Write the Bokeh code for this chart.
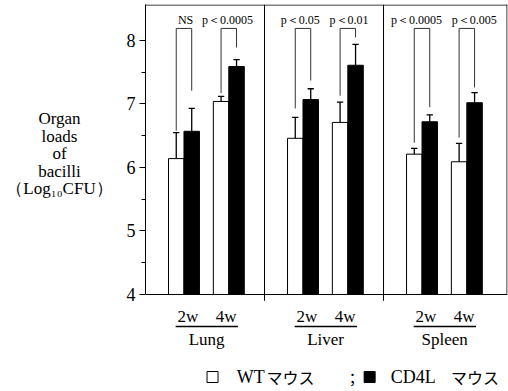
from bokeh.plotting import figure
from bokeh.layouts import row
from bokeh.models import FixedTicker
from bokeh.core.properties import value
from bokeh.embed import file_html
from bokeh.resources import INLINE

# ---- data ----
organs = ["Lung", "Liver", "Spleen"]
weeks = ["2w", "4w"]
wt_mean = [6.14, 7.04, 6.46, 6.71, 6.21, 6.09]
wt_sd = [0.41, 0.08, 0.33, 0.32, 0.09, 0.29]
cd4l_mean = [6.57, 7.59, 7.07, 7.61, 6.72, 7.02]
cd4l_sd = [0.36, 0.11, 0.17, 0.33, 0.11, 0.16]
p_labels = ["NS", "p＜0.0005", "p＜0.05", "p＜0.01", "p＜0.0005", "p＜0.005"]
bracket_left_bottom = [6.58, 7.17, 6.93, 7.13, 6.39, 6.47]
bracket_right_bottom = [7.21, 7.89, 7.37, 8.05, 6.95, 7.26]
bracket_top = 8.19
y_ticks = [4, 5, 6, 7, 8]
y_minor = [4.5, 5.5, 6.5, 7.5]
ylabel_lines = ["Organ", "loads", "of", "bacilli", "（Log₁₀CFU）"]
legend_wt = ["WT", "マウス"]
legend_sep = "；"
legend_cd = ["CD4L", "マウス"]

# ---- layout constants ----
Y_BASE, Y_TOP, Y_BOTTOM, X_MAX = 4.0, 8.567, 2.472, 9.125
PANEL = 3.0
OFFS = [0.97, 2.1]
LABEL_DX = [0.04, -0.03, -0.07, 0.03, -0.14, 0.19]
BW = 0.39
SERIF = "Liberation Serif"
CJK = "Noto Sans CJK JP"
LEFT_W = 118
H = 391

centers = [i * PANEL + o for i in range(len(organs)) for o in OFFS]
wt_x = [c - BW / 2 for c in centers]
cd_x = [c + BW / 2 for c in centers]

p = figure(width=390, height=H, x_range=(0, X_MAX), y_range=(Y_BOTTOM, Y_TOP),
           output_backend="svg", toolbar_location=None, x_axis_location=None,
           min_border_left=27, min_border_right=1, min_border_top=4, min_border_bottom=0)
p.outline_line_color = None
p.xgrid.visible = False
p.ygrid.visible = False

ax = p.yaxis[0]
ax.bounds = (Y_BASE, Y_TOP)
ax.ticker = FixedTicker(ticks=y_ticks, minor_ticks=y_minor)
ax.axis_line_color = "black"
ax.major_tick_line_color = "black"
ax.minor_tick_line_color = "black"
ax.major_tick_in = 0
ax.major_tick_out = 6
ax.minor_tick_in = 0
ax.minor_tick_out = 4
ax.major_label_text_font = SERIF
ax.major_label_text_font_size = "18px"
ax.major_label_text_color = "black"
ax.major_label_standoff = 4

# frame lines
p.segment(x0=[0, X_MAX - 0.012], y0=[Y_TOP - 0.008, Y_BASE], x1=[X_MAX, X_MAX - 0.012],
          y1=[Y_TOP - 0.008, Y_TOP], line_color="black", line_width=1)
p.segment(x0=[0], y0=[Y_BASE], x1=[X_MAX], y1=[Y_BASE], line_color="black", line_width=1.2)
p.segment(x0=[PANEL, 2 * PANEL], y0=[Y_BASE - 0.1] * 2, x1=[PANEL, 2 * PANEL],
          y1=[Y_TOP] * 2, line_color="black", line_width=1)

# bars
p.vbar(x=wt_x, top=wt_mean, bottom=Y_BASE, width=BW, fill_color="white", line_color="black", line_width=1)
p.vbar(x=cd_x, top=cd4l_mean, bottom=Y_BASE, width=BW, fill_color="black", line_color="black", line_width=1)

# error bars (upper only)
for xs, m, s in [(wt_x, wt_mean, wt_sd), (cd_x, cd4l_mean, cd4l_sd)]:
    tops = [a + b for a, b in zip(m, s)]
    p.segment(x0=xs, y0=m, x1=xs, y1=tops, line_color="black", line_width=1.3)
    p.segment(x0=[x - 0.08 for x in xs], y0=tops, x1=[x + 0.08 for x in xs], y1=tops,
              line_color="black", line_width=1.3)

# significance brackets
xs_list, ys_list = [], []
for i in range(len(centers)):
    xs_list.append([wt_x[i], wt_x[i], cd_x[i], cd_x[i]])
    ys_list.append([bracket_left_bottom[i], bracket_top, bracket_top, bracket_right_bottom[i]])
p.multi_line(xs=xs_list, ys=ys_list, line_color="#333333", line_width=1)
p.text(x=[c + d for c, d in zip(centers, LABEL_DX)], y=[bracket_top + 0.14] * len(centers),
       text=p_labels, text_font=value(SERIF), text_font_size="12px", text_align="center",
       text_baseline="middle", text_color="black")

# category labels below axis
wk_x = []
wk_t = []
for i in range(len(organs)):
    for j, w in enumerate(weeks):
        wk_x.append(i * PANEL + OFFS[j] + (0.1 if j == 0 else -0.07))
        wk_t.append(w)
p.text(x=wk_x, y=[3.65] * len(wk_x), text=wk_t, text_font=value(SERIF), text_font_size="17px",
       text_align="center", text_baseline="middle", text_color="black")
p.segment(x0=[i * PANEL + 0.76 for i in range(3)], y0=[3.496] * 3,
          x1=[i * PANEL + 2.33 for i in range(3)], y1=[3.496] * 3, line_color="black", line_width=1.3)
p.text(x=[i * PANEL + 1.54 for i in range(3)], y=[3.29] * 3, text=organs, text_font=value(SERIF),
       text_font_size="17px", text_align="center", text_baseline="middle", text_color="black")

# legend
LEG_Y = 2.7
p.scatter(x=[1.69], y=[LEG_Y], marker="square", size=11, fill_color="white", line_color="black", line_width=1)
p.scatter(x=[5.65], y=[LEG_Y], marker="square", size=11, fill_color="black", line_color="black")
p.text(x=[2.3, 6.18], y=[LEG_Y] * 2, text=[legend_wt[0], legend_cd[0]],
       text_font=value(SERIF), text_font_size="18px", text_align="left", text_baseline="middle",
       text_color="black")
p.text(x=[3.05, 7.7], y=[LEG_Y] * 2, text=[legend_wt[1], legend_cd[1]],
       text_font=value(CJK), text_font_size="16px", text_align="left", text_baseline="middle",
       text_color="black")
p.text(x=[5.22], y=[LEG_Y], text=[legend_sep], text_font=value(CJK), text_font_size="15px",
       text_align="center", text_baseline="middle", text_color="black")

# y label in a narrow companion figure sharing the y scale
lf = figure(width=LEFT_W, height=H, x_range=(0, LEFT_W), y_range=p.y_range,
            output_backend="svg", toolbar_location=None, x_axis_location=None, y_axis_location=None,
            min_border_left=0, min_border_right=0, min_border_top=4, min_border_bottom=0)
lf.outline_line_color = None
lf.xgrid.visible = False
lf.ygrid.visible = False
lf.text(x=[59] * len(ylabel_lines), y=[6.77 - k * 0.276 for k in range(len(ylabel_lines))],
        text=ylabel_lines, text_font=value(SERIF), text_font_size="17px", text_align="center",
        text_baseline="middle", text_color="black")

layout = row(lf, p, spacing=0)
open("out.html", "w").write(file_html(layout, INLINE))
